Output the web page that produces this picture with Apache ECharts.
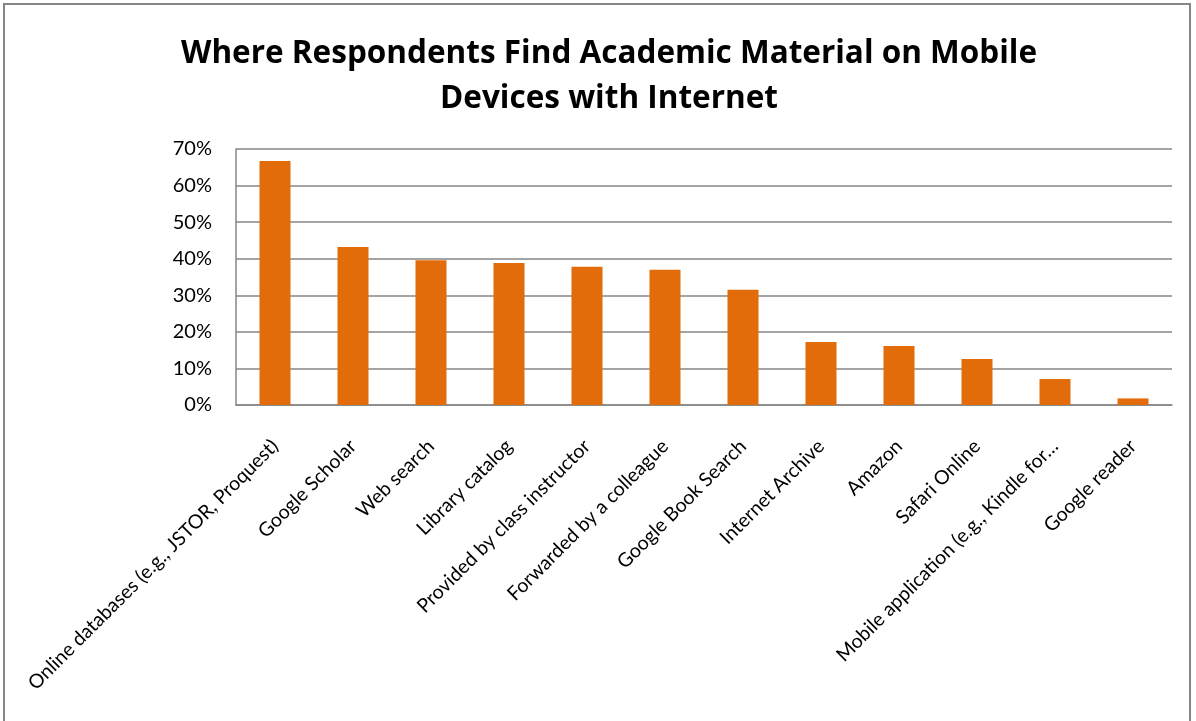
<!DOCTYPE html>
<html>
<head>
<meta charset="utf-8">
<script src="https://cdn.jsdelivr.net/npm/echarts@6/dist/echarts.min.js"></script>
<style>
html,body{margin:0;padding:0;background:#fff;}
#chart{width:1196px;height:721px;}
</style>
</head>
<body>
<div id="chart"></div>
<script>
const titleText = "Where Respondents Find Academic Material on Mobile\nDevices with Internet";
const categories = [
  "Online databases (e.g., JSTOR, Proquest)",
  "Google Scholar",
  "Web search",
  "Library catalog",
  "Provided by class instructor",
  "Forwarded by a colleague",
  "Google Book Search",
  "Internet Archive",
  "Amazon",
  "Safari Online",
  "Mobile application (e.g., Kindle for\u2026",
  "Google reader"
];
const values = [66.7, 43.2, 39.6, 38.8, 37.8, 37.0, 31.5, 17.2, 16.1, 12.6, 7.1, 1.8];
const yTicks = { min: 0, max: 70, interval: 10 };

const chart = echarts.init(document.getElementById('chart'));
chart.setOption({
  animation: false,
  backgroundColor: '#ffffff',
  graphic: [{
    type: 'rect',
    shape: { x: 4, y: 4, width: 1186, height: 740 },
    style: { fill: 'none', stroke: '#868686', lineWidth: 2 },
    silent: true
  }],
  title: {
    text: titleText,
    left: 604,
    textAlign: 'center',
    top: 27,
    textStyle: {
      fontFamily: 'Open Sans',
      fontWeight: 'bold',
      fontSize: 31.5,
      lineHeight: 45,
      color: '#000000'
    }
  },
  grid: { left: 236, right: 24, top: 149, bottom: 316, containLabel: false },
  xAxis: {
    type: 'category',
    data: categories,
    axisLine: { show: true, lineStyle: { color: '#868686', width: 1.5 } },
    axisTick: { show: false },
    axisLabel: {
      interval: 0,
      rotate: 45,
      margin: 38,
      fontFamily: 'Lato',
      fontSize: 19.5,
      color: '#000000'
    }
  },
  yAxis: {
    type: 'value',
    min: yTicks.min,
    max: yTicks.max,
    interval: yTicks.interval,
    axisLine: { show: true, lineStyle: { color: '#868686', width: 1.5 } },
    axisTick: { show: false },
    splitLine: { show: true, lineStyle: { color: '#868686', width: 1.5 } },
    axisLabel: {
      formatter: '{value}%',
      margin: 24,
      fontFamily: 'Lato',
      fontSize: 20,
      color: '#000000'
    }
  },
  series: [{
    type: 'bar',
    data: values,
    barWidth: 31,
    itemStyle: { color: '#E36C0A' }
  }]
});
</script>
</body>
</html>
